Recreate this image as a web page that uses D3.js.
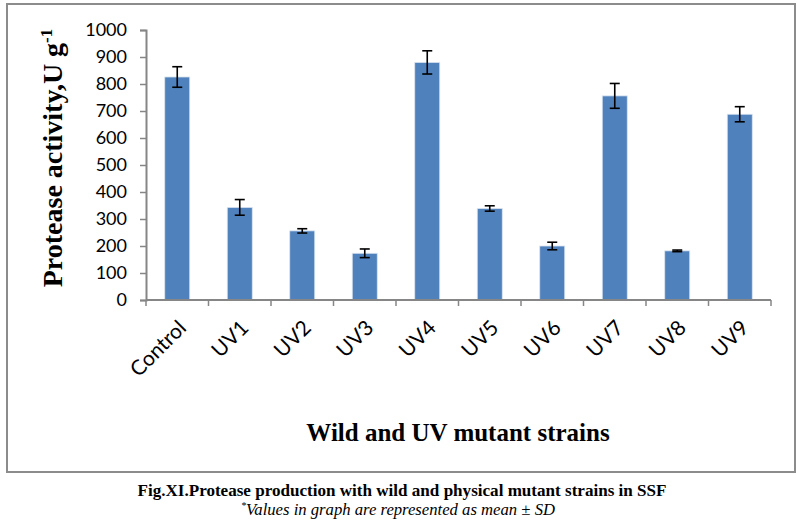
<!DOCTYPE html>
<html><head><meta charset="utf-8">
<script src="https://cdn.jsdelivr.net/npm/d3@7/dist/d3.min.js"></script>
<style>body{margin:0;background:#fff;}svg{display:block;}</style>
</head><body>
<svg id="chart" width="797" height="526"></svg>
<script>
const categories = ["Control","UV1","UV2","UV3","UV4","UV5","UV6","UV7","UV8","UV9"];
const means = [826, 343, 256, 173, 880, 339, 200, 756, 182, 688];
const sds = [38, 29, 8, 16, 43, 10, 14, 46, 3, 28];
const yTicks = [0,100,200,300,400,500,600,700,800,900,1000];

const svg = d3.select("#chart");
const m = {left:146, right:771, top:30, bottom:300};

// frame
svg.append("rect").attr("x",7).attr("y",4).attr("width",788).attr("height",468)
  .attr("fill","none").attr("stroke","#8c8c8c").attr("stroke-width",2);

const x = d3.scaleBand().domain(categories).range([m.left,m.right]).paddingInner(0.6).paddingOuter(0.3);
const y = d3.scaleLinear().domain([0,1000]).range([m.bottom,m.top]);

// bars
svg.append("g").selectAll("rect").data(categories).join("rect")
  .attr("x",d=>x(d)).attr("width",x.bandwidth())
  .attr("y",(d,i)=>y(means[i])).attr("height",(d,i)=>y(0)-y(means[i]))
  .attr("fill","#4f81bd").attr("stroke","#dbe4f0").attr("stroke-width",0.8);

// error bars
const eb = svg.append("g").attr("stroke","#000").attr("stroke-width",1.6);
categories.forEach((c,i)=>{
  const cx = x(c)+x.bandwidth()/2;
  const t = y(means[i]+sds[i]), b = y(means[i]-sds[i]);
  eb.append("line").attr("x1",cx).attr("x2",cx).attr("y1",t).attr("y2",b);
  eb.append("line").attr("x1",cx-5).attr("x2",cx+5).attr("y1",t).attr("y2",t);
  eb.append("line").attr("x1",cx-5).attr("x2",cx+5).attr("y1",b).attr("y2",b);
});

// y axis
const ya = svg.append("g").attr("transform",`translate(${m.left},0)`)
  .call(d3.axisLeft(y).tickValues(yTicks).tickFormat(d3.format("d")).tickSize(6).tickPadding(13));
ya.select(".domain").attr("stroke","#868686").attr("stroke-width",2);
ya.selectAll(".tick line").attr("stroke","#868686").attr("stroke-width",1.5);
ya.selectAll("text").attr("font-family","Lato, sans-serif").attr("font-size",18).attr("fill","#000");

// x axis
const xPos = d3.scalePoint().domain(d3.range(11)).range([m.left,m.right]);
const xa = svg.append("g").attr("transform",`translate(0,${m.bottom})`);
xa.append("line").attr("x1",m.left).attr("x2",m.right).attr("y1",0).attr("y2",0)
  .attr("stroke","#868686").attr("stroke-width",2);
xa.selectAll(".tk").data(d3.range(11)).join("line").attr("class","tk")
  .attr("x1",d=>xPos(d)).attr("x2",d=>xPos(d)).attr("y1",0).attr("y2",6)
  .attr("stroke","#868686").attr("stroke-width",1.5);
xa.selectAll(".lbl").data(categories).join("text").attr("class","lbl")
  .attr("transform",d=>`translate(${x(d)+x.bandwidth()/2+5},${24}) rotate(-45)`)
  .attr("text-anchor","end").attr("dy","0.35em")
  .attr("font-family","Lato, sans-serif").attr("font-size",21).attr("fill","#000")
  .text(d=>d);

// axis titles
const yt = svg.append("text").attr("transform","translate(62,158) rotate(-90)")
  .attr("text-anchor","middle").attr("font-family","Liberation Serif, serif")
  .attr("font-weight","bold").attr("font-size",28).attr("fill","#000");
yt.append("tspan").text("Protease activity,U g");
yt.append("tspan").attr("dy",-10).attr("font-size",17).text("-1");

svg.append("text").attr("x",458).attr("y",441).attr("text-anchor","middle")
  .attr("font-family","Liberation Serif, serif").attr("font-weight","bold")
  .attr("font-size",25).attr("fill","#000").text("Wild and UV mutant strains");

// caption
svg.append("text").attr("x",402).attr("y",496).attr("text-anchor","middle")
  .attr("font-family","Liberation Serif, serif").attr("font-weight","bold")
  .attr("font-size",16).attr("textLength",529).attr("lengthAdjust","spacingAndGlyphs").attr("fill","#000")
  .text("Fig.XI.Protease production with wild and physical mutant strains in SSF");
svg.append("text").attr("x",241).attr("y",509).attr("font-family","Liberation Serif, serif")
  .attr("font-style","italic").attr("font-size",10).attr("fill","#000").text("*");
svg.append("text").attr("x",246).attr("y",515)
  .attr("font-family","Liberation Serif, serif").attr("font-style","italic")
  .attr("font-size",16).attr("textLength",309).attr("lengthAdjust","spacingAndGlyphs").attr("fill","#000")
  .text("Values in graph are represented as mean ± SD");
</script>
</body></html>
